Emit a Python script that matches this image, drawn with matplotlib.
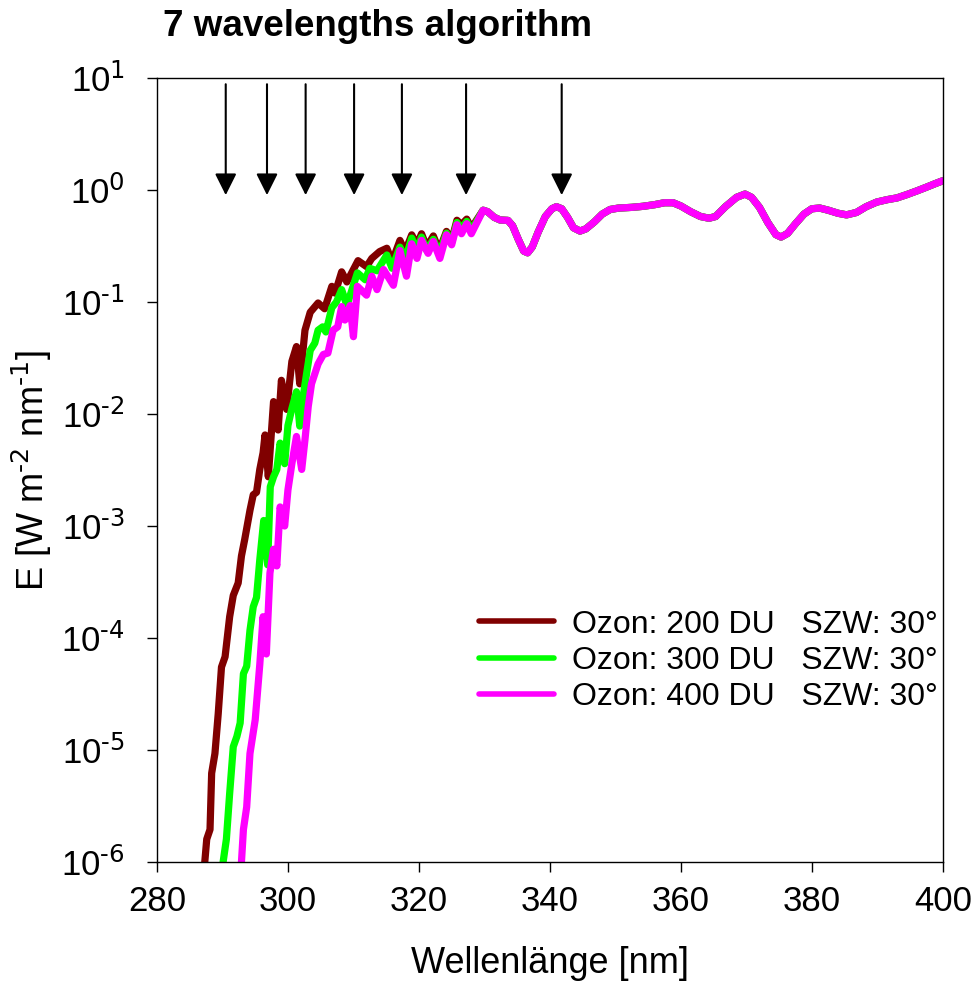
import numpy as np
import matplotlib
matplotlib.use("Agg")
import matplotlib.pyplot as plt

plt.rcParams['font.family'] = ['Liberation Sans', 'DejaVu Sans']

# Spektrale Bestrahlungsstaerke E [W m-2 nm-1], UV-B Teil je Ozonsaeule
wl_200 = [287.3, 287.6, 288.1, 288.35, 288.85, 289.35, 289.85, 290.4, 291.1, 291.65,
          292.4, 292.9, 293.4, 294.2, 294.7, 295.2, 295.7, 296.2, 296.5, 297.0,
          297.8, 298.5, 299.0, 299.8, 300.6, 301.3, 301.8, 302.6, 303.4, 304.6,
          305.6, 306.7, 307.2, 308.2, 309.0, 310.7, 312.0, 312.8, 314.0, 315.1,
          315.9, 317.1, 317.9, 318.9, 319.7, 320.4, 321.2, 322.2, 323.1, 324.2,
          325.0, 325.8, 326.5, 327.3, 328.0]
e_200 = [1.0e-6, 1.6e-6, 1.95e-6, 6.2e-6, 9.3e-6, 2.1e-5, 5.5e-5, 6.8e-5, 1.55e-4, 2.4e-4,
         3.1e-4, 5.4e-4, 7.6e-4, 1.38e-3, 1.9e-3, 2.0e-3, 3.2e-3, 4.5e-3, 6.5e-3, 2.75e-3,
         1.29e-2, 7.2e-3, 2.0e-2, 1.1e-2, 2.95e-2, 4.0e-2, 1.86e-2, 5.6e-2, 8.1e-2, 9.8e-2,
         8.7e-2, 0.138, 0.12, 0.186, 0.151, 0.234, 0.207, 0.245, 0.282, 0.302,
         0.229, 0.355, 0.282, 0.398, 0.324, 0.407, 0.309, 0.389, 0.288, 0.427,
         0.355, 0.537, 0.49, 0.55, 0.457]

wl_300 = [290.1, 290.6, 291.1, 291.65, 292.2, 292.7, 293.2, 293.7, 294.2, 294.7,
          295.2, 295.7, 296.3, 296.9, 297.3, 297.8, 298.3, 298.8, 299.5, 300.0,
          300.6, 301.3, 301.8, 302.3, 302.85, 303.4, 304.1, 304.6, 305.3, 305.8,
          306.7, 307.4, 308.2, 309.0, 310.6, 311.8, 312.5, 313.6, 315.1, 315.9,
          317.1, 317.9, 318.9, 319.7, 320.4, 321.2, 322.2, 323.1, 324.2, 325.0,
          325.8, 326.5, 327.3, 328.0]
e_300 = [1.0e-6, 1.6e-6, 4.1e-6, 1.07e-5, 1.32e-5, 1.74e-5, 4.8e-5, 5.6e-5, 1.17e-4, 1.9e-4,
         2.3e-4, 5.0e-4, 1.12e-3, 4.5e-4, 2.24e-3, 2.75e-3, 3.2e-3, 5.5e-3, 3.6e-3, 7.9e-3,
         1.12e-2, 1.58e-2, 7.8e-3, 1.4e-2, 2.3e-2, 3.7e-2, 4.3e-2, 5.6e-2, 6.0e-2, 5.4e-2,
         8.9e-2, 0.10, 0.129, 9.3e-2, 0.182, 0.158, 0.20, 0.19, 0.263, 0.20,
         0.309, 0.24, 0.372, 0.288, 0.38, 0.288, 0.363, 0.269, 0.412, 0.339,
         0.513, 0.452, 0.525, 0.436]

wl_400 = [292.9, 293.2, 293.7, 294.2, 295.0, 295.7, 296.2, 296.7, 297.25, 297.8,
          298.3, 298.8, 299.5, 300.0, 300.6, 301.3, 302.1, 302.6, 303.1, 303.6,
          304.6, 305.4, 306.1, 306.9, 307.6, 308.2, 308.7, 309.5, 310.0, 310.6,
          312.0, 312.8, 313.6, 314.6, 316.1, 317.1, 318.1, 318.9, 319.7, 320.4,
          321.4, 322.2, 323.2, 324.2, 325.0, 325.8, 326.5, 327.3, 328.0]
e_400 = [1.0e-6, 1.95e-6, 3.1e-6, 9.3e-6, 1.86e-5, 5.8e-5, 1.55e-4, 7.2e-5, 3.8e-4, 6.2e-4,
         4.4e-4, 1.48e-3, 1.0e-3, 2.1e-3, 3.6e-3, 6.3e-3, 3.2e-3, 5.9e-3, 1.17e-2, 1.86e-2,
         2.8e-2, 3.4e-2, 3.5e-2, 5.6e-2, 6.0e-2, 9.1e-2, 6.9e-2, 9.3e-2, 4.9e-2, 0.138,
         0.115, 0.17, 0.129, 0.195, 0.141, 0.288, 0.17, 0.331, 0.245, 0.355,
         0.272, 0.347, 0.245, 0.398, 0.324, 0.49, 0.407, 0.50, 0.407]

# UV-A Teil, fuer alle Ozonwerte gleich
wl_uva = [329.8, 330.5, 331.5, 332.4, 333.6, 334.3, 335.2, 336.0, 336.6, 337.3,
          338.2, 339.3, 340.3, 341.0, 341.8, 342.7, 343.6, 344.6, 345.5, 346.8,
          348.0, 349.2, 350.5, 352.5, 354.2, 356.0, 357.5, 358.8, 360.0, 361.5,
          363.0, 364.3, 365.3, 366.8, 368.5, 369.8, 370.8, 372.0, 373.3, 374.5,
          375.3, 376.3, 377.5, 378.8, 380.0, 381.2, 382.5, 384.0, 385.3, 386.8,
          388.3, 389.9, 391.5, 393.0, 394.5, 396.0, 397.5, 399.0, 400.0]
e_uva = [0.66, 0.64, 0.57, 0.54, 0.535, 0.48, 0.36, 0.285, 0.275, 0.31,
         0.42, 0.58, 0.68, 0.71, 0.68, 0.57, 0.46, 0.43, 0.45, 0.52,
         0.61, 0.67, 0.69, 0.70, 0.715, 0.74, 0.77, 0.77, 0.72, 0.64,
         0.58, 0.56, 0.58, 0.71, 0.86, 0.92, 0.86, 0.70, 0.51, 0.40,
         0.38, 0.41, 0.50, 0.61, 0.68, 0.69, 0.66, 0.62, 0.60, 0.63,
         0.71, 0.78, 0.82, 0.85, 0.91, 0.98, 1.06, 1.15, 1.21]

# Wellenlaengen des Algorithmus
pfeile_wl = [290.5, 296.8, 302.7, 310.1, 317.4, 327.2, 341.8]

labels = ["Ozon: 200 DU   SZW: 30°", "Ozon: 300 DU   SZW: 30°", "Ozon: 400 DU   SZW: 30°"]
farben = ["#800000", "#00ff00", "#ff00ff"]

fig = plt.figure(figsize=(9.75, 9.9), dpi=100)
ax = fig.add_axes([0.161, 0.1293, 0.806, 0.7919])

for wl, e, lab, c in zip([wl_200, wl_300, wl_400], [e_200, e_300, e_400], labels, farben):
    x = np.concatenate([wl, wl_uva])
    y = np.concatenate([e, e_uva])
    ax.plot(x, y, color=c, lw=5.2, label=lab, solid_joinstyle="round", solid_capstyle="round")

for w in pfeile_wl:
    ax.annotate("", xy=(w, 0.9), xytext=(w, 8.8),
                arrowprops=dict(arrowstyle="-|>,head_width=0.3,head_length=0.6",
                                color="black", lw=1.5, mutation_scale=22,
                                shrinkA=0, shrinkB=0))

ax.set_yscale("log")
ax.set_xlim(280, 400)
ax.set_ylim(1e-6, 10)
ax.set_xticks(np.arange(280, 401, 20))
ax.set_yticks([10.0 ** k for k in range(-6, 2)])
ax.set_yticklabels([r"$\mathregular{10^{\text{%d}}}$" % k for k in range(-6, 2)])
ax.minorticks_off()
ax.tick_params(axis="y", direction="out", length=7, width=1, labelsize=25, pad=16)
ax.tick_params(axis="x", direction="out", length=7.5, width=1, labelsize=25, pad=9)
for s in ax.spines.values():
    s.set_linewidth(1)

ax.set_xlabel("Wellenlänge [nm]", fontsize=26, labelpad=20)
ax.set_ylabel(r"E [W m$\mathregular{^{\text{-2}}}$ nm$\mathregular{^{\text{-1}}}$]",
              fontsize=26, labelpad=5)

leg = ax.legend(loc="upper left", bbox_to_anchor=(0.41, 0.322), frameon=False,
                fontsize=23, handlelength=2.35, handletextpad=0.55,
                labelspacing=0.2, borderpad=0, borderaxespad=0)
for line in leg.get_lines():
    line.set_linewidth(4)

fig.text(163 / 975, 1 - 26 / 990, "7 wavelengths algorithm", fontsize=26.5,
         fontweight="bold", ha="left", va="center")

fig.savefig("out.png", dpi=100)
